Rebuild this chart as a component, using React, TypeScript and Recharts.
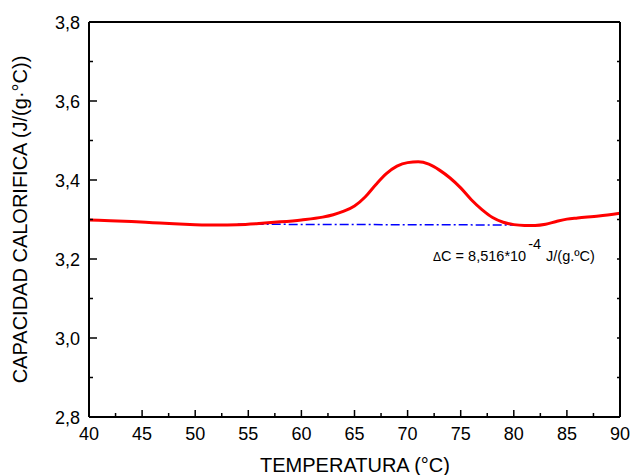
import { LineChart, Line, XAxis, YAxis, ReferenceDot } from "recharts"

const temperatures = [40, 42, 44, 46, 48, 50, 52, 54, 56, 58, 60, 62, 63, 64, 65, 66, 67, 68, 69, 70, 71, 72, 73, 74, 75, 76, 77, 78, 79, 80, 81, 82, 83, 84, 85, 86, 88, 90]
const heatCapacity = [3.299, 3.297, 3.295, 3.292, 3.289, 3.287, 3.286, 3.287, 3.290, 3.294, 3.299, 3.306, 3.312, 3.321, 3.334, 3.357, 3.388, 3.416, 3.435, 3.444, 3.446, 3.440, 3.425, 3.405, 3.380, 3.350, 3.325, 3.305, 3.293, 3.287, 3.285, 3.285, 3.288, 3.295, 3.301, 3.304, 3.309, 3.316]

const baselineTemps = [54, 81.5]
const baselineValues = [3.288, 3.286]

const xTicks = [40, 42.5, 45, 47.5, 50, 52.5, 55, 57.5, 60, 62.5, 65, 67.5, 70, 72.5, 75, 77.5, 80, 82.5, 85, 87.5, 90]
const yTicks = [2.8, 2.9, 3.0, 3.1, 3.2, 3.3, 3.4, 3.5, 3.6, 3.7, 3.8]
const yTickLabels = ["2,8", "", "3,0", "", "3,2", "", "3,4", "", "3,6", "", "3,8"]

const xTitle = "TEMPERATURA (°C)"
const yTitle = "CAPACIDAD CALORIFICA (J/(g·°C))"

const curve = temperatures.map((t, i) => ({ t, cp: heatCapacity[i] }))
const baseline = baselineTemps.map((t, i) => ({ t, base: baselineValues[i] }))

const FONT = "'Liberation Sans', Arial, sans-serif"

const isMajorX = (v: number) => v % 5 === 0

function BottomTick({ x, y, payload }: any) {
  const major = isMajorX(payload.value)
  return (
    <g>
      <line x1={x} y1={y} x2={x} y2={y - (major ? 7 : 4)} stroke="#000" strokeWidth={1.5} />
      {major && (
        <text x={x} y={y + 23} textAnchor="middle" fontSize={18} fontFamily={FONT} fill="#000">
          {payload.value}
        </text>
      )}
    </g>
  )
}

function TopTick({ x, y }: any) {
  return <line x1={x} y1={y} x2={x} y2={y + 2} stroke="#000" strokeWidth={1} />
}

function LeftTick({ x, y, index }: any) {
  const label = yTickLabels[index]
  return (
    <g>
      <line x1={x} y1={y} x2={x + (label ? 8 : 4)} y2={y} stroke="#000" strokeWidth={1.5} />
      {label && (
        <text x={x - 9} y={y + 6.5} textAnchor="end" fontSize={18} fontFamily={FONT} fill="#000">
          {label}
        </text>
      )}
    </g>
  )
}

function RightTick({ x, y }: any) {
  return <line x1={x} y1={y} x2={x - 3} y2={y} stroke="#000" strokeWidth={1.5} />
}

function DeltaLabel({ viewBox }: any) {
  return (
    <text x={viewBox.x} y={viewBox.y} fontSize={14.5} fontFamily={FONT} fill="#000">
      <tspan fontSize={12}>Δ</tspan>
      <tspan>C = 8,516*10</tspan>
      <tspan dx={2} dy={-12}>-4</tspan>
      <tspan dx={5} dy={12}>J/(g.ºC)</tspan>
    </text>
  )
}

export default function App() {
  return (
    <div style={{ position: "absolute", left: 0, top: 0, background: "#fff" }}>
      <LineChart width={632} height={475} margin={{ top: 0, right: 0, bottom: 0, left: 0 }}>
        <XAxis
          xAxisId="bottom"
          dataKey="t"
          type="number"
          domain={[40, 90]}
          ticks={xTicks}
          interval={0}
          height={58}
          tickSize={0}
          tickMargin={0}
          tickLine={false}
          axisLine={{ stroke: "#000", strokeWidth: 2 }}
          tick={<BottomTick />}
          allowDataOverflow
          label={{
            content: () => (
              <text x={355} y={472} textAnchor="middle" fontSize={20} fontFamily={FONT} fill="#000">
                {xTitle}
              </text>
            ),
          }}
        />
        <XAxis
          xAxisId="top"
          orientation="top"
          type="number"
          domain={[40, 90]}
          ticks={xTicks}
          interval={0}
          height={22}
          tickSize={0}
          tickMargin={0}
          tickLine={false}
          axisLine={{ stroke: "#000", strokeWidth: 2 }}
          tick={<TopTick />}
          allowDataOverflow
        />
        <YAxis
          yAxisId="left"
          type="number"
          domain={[2.8, 3.8]}
          ticks={yTicks}
          interval={0}
          width={89}
          tickSize={0}
          tickMargin={0}
          tickLine={false}
          axisLine={{ stroke: "#000", strokeWidth: 2 }}
          tick={<LeftTick />}
          allowDataOverflow
          label={{
            content: () => (
              <text
                x={27}
                y={219.5}
                transform="rotate(-90 27 219.5)"
                textAnchor="middle"
                fontSize={20}
                fontFamily={FONT}
                fill="#000"
              >
                {yTitle}
              </text>
            ),
          }}
        />
        <YAxis
          yAxisId="right"
          orientation="right"
          type="number"
          domain={[2.8, 3.8]}
          ticks={yTicks}
          interval={0}
          width={12}
          tickSize={0}
          tickMargin={0}
          tickLine={false}
          axisLine={{ stroke: "#000", strokeWidth: 2 }}
          tick={<RightTick />}
          allowDataOverflow
        />
        <Line
          xAxisId="bottom"
          yAxisId="left"
          data={baseline}
          dataKey="base"
          type="linear"
          stroke="#0000ff"
          strokeWidth={1.5}
          strokeDasharray="9 3 2 3"
          dot={false}
          isAnimationActive={false}
        />
        <Line
          xAxisId="bottom"
          yAxisId="left"
          data={curve}
          dataKey="cp"
          type="monotone"
          stroke="#ff0000"
          strokeWidth={3}
          dot={false}
          isAnimationActive={false}
        />
        <ReferenceDot
          xAxisId="bottom"
          yAxisId="left"
          x={72.4}
          y={3.195}
          r={0}
          fill="none"
          stroke="none"
          label={<DeltaLabel />}
        />
      </LineChart>
    </div>
  )
}
